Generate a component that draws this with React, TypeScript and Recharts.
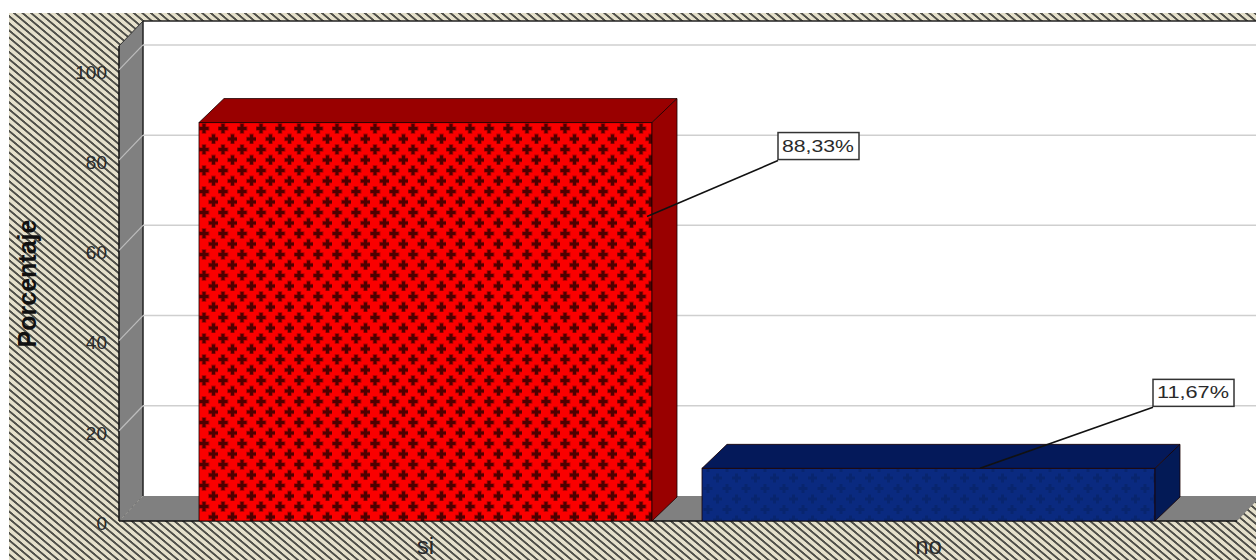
import React from 'react';
import { BarChart, Bar, XAxis, YAxis, ReferenceArea, LabelList, Cell } from 'recharts';

const categories = ['si', 'no'];
const percentages = [88.33, 11.67];
const yTicks = [0, 20, 40, 60, 80, 100];
const Y_MAX = 105.3;

const rows = categories.map((name, i) => ({ name, value: percentages[i] }));

const DEPTH_X = 24;
const DEPTH_Y = 25;
const BAR_DEPTH_X = 25;
const BAR_DEPTH_Y = 24;
const PLOT_LEFT = 119;
const PLOT_RIGHT = 1237;
const IMAGE_RIGHT = 1256;

const fillPatterns = ['url(#redWeave)', 'url(#blueWeave)'];
const sideColors = ['#990000', '#031a56'];
const topColors = ['#990000', '#04195a'];

// where each callout line starts on its bar, and where its box sits, relative to the bar's top-left
const callouts = [
  { startX: 448, startY: 94, boxX: 579, boxY: 10 },
  { startX: 278, startY: 0, boxX: 451, boxY: -89 },
];

const Box3D = (props: any) => {
  const { x, y, width, height, index } = props;
  const right = x + width;
  const bottom = y + height;
  const edge = { stroke: '#1a0000', strokeWidth: 1, strokeOpacity: 0.8 };
  return (
    <g>
      <rect x={x} y={y} width={width} height={height} fill={fillPatterns[index]} {...edge} />
      <polygon
        points={`${x},${y} ${x + BAR_DEPTH_X},${y - BAR_DEPTH_Y} ${right + BAR_DEPTH_X},${y - BAR_DEPTH_Y} ${right},${y}`}
        fill={topColors[index]}
        {...edge}
      />
      <polygon
        points={`${right},${y} ${right + BAR_DEPTH_X},${y - BAR_DEPTH_Y} ${right + BAR_DEPTH_X},${bottom - BAR_DEPTH_Y} ${right},${bottom}`}
        fill={sideColors[index]}
        {...edge}
      />
    </g>
  );
};

const Callout = (props: any) => {
  const { x, y, value, index } = props;
  const c = callouts[index];
  const text = `${Number(value).toFixed(2).replace('.', ',')}%`;
  const boxX = x + c.boxX;
  const boxY = y + c.boxY;
  return (
    <g>
      <line x1={x + c.startX} y1={y + c.startY} x2={boxX} y2={boxY + 28} stroke="#111" strokeWidth={1.6} />
      <rect x={boxX} y={boxY} width={81} height={27} fill="#fff" stroke="#333" strokeWidth={1.5} />
      <text
        x={boxX + 4}
        y={boxY + 19}
        fontSize={17}
        fill="#2a2a2a"
        fontFamily="Liberation Sans"
        textLength={72}
        lengthAdjust="spacingAndGlyphs"
      >
        {text}
      </text>
    </g>
  );
};

// side wall, back wall and floor of the box the bars stand in
const Walls = (props: any) => {
  const { y, height } = props;
  const x = PLOT_LEFT;
  const bottom = y + height;
  const right = PLOT_RIGHT;
  return (
    <g>
      <rect x={x + DEPTH_X} y={y - DEPTH_Y} width={IMAGE_RIGHT} height={height} fill="#fff" />
      <polygon
        points={`${x},${y} ${x + DEPTH_X},${y - DEPTH_Y} ${x + DEPTH_X},${bottom - DEPTH_Y} ${x},${bottom}`}
        fill="#808080"
      />
      <polygon
        points={`${x},${bottom} ${x + DEPTH_X},${bottom - DEPTH_Y} ${right + DEPTH_X},${bottom - DEPTH_Y} ${right},${bottom}`}
        fill="#808080"
      />
      <line x1={x} y1={y} x2={x} y2={bottom} stroke="#111" strokeWidth={1.5} />
      <line x1={x} y1={bottom} x2={right} y2={bottom} stroke="#111" strokeWidth={1.5} />
      <line x1={x} y1={y} x2={x + DEPTH_X} y2={y - DEPTH_Y} stroke="#333" />
      <line x1={x + DEPTH_X} y1={y - DEPTH_Y} x2={x + DEPTH_X} y2={bottom - DEPTH_Y} stroke="#222" strokeWidth={1.5} />
      <line x1={x + DEPTH_X} y1={y - DEPTH_Y} x2={IMAGE_RIGHT} y2={y - DEPTH_Y} stroke="#222" strokeWidth={1.5} />
    </g>
  );
};

// gridline running up the side wall and across the back wall; the area's lower edge sits on the tick value
const WallGridLine = (props: any) => {
  const { y, height } = props;
  const frontY = y + height;
  const backX = PLOT_LEFT + DEPTH_X;
  const backY = frontY - DEPTH_Y;
  return (
    <g>
      <line x1={PLOT_LEFT} y1={frontY} x2={backX} y2={backY} stroke="#bdbdbd" strokeWidth={1.2} />
      <line x1={backX} y1={backY} x2={IMAGE_RIGHT} y2={backY} stroke="#cfcfcf" strokeWidth={1.5} />
    </g>
  );
};

const stripes =
  'repeating-linear-gradient(40deg, #e5e0cb 0px, #e5e0cb 2.9px, #50504a 3.6px, #50504a 4.9px, #e5e0cb 5.5px)';

export default function App() {
  return (
    <div style={{ position: 'absolute', left: 0, top: 0, width: 1256, height: 560, overflow: 'hidden', background: '#fff' }}>
      <div style={{ position: 'absolute', left: 9, top: 13, right: 0, bottom: 0, background: stripes }} />
      <div style={{ position: 'absolute', left: 0, top: 0 }}>
        <BarChart
          width={1256}
          height={560}
          data={rows}
          margin={{ top: 46, right: 19, bottom: 9, left: 0 }}
          barSize={453}
        >
          <defs>
            <pattern id="redWeave" patternUnits="userSpaceOnUse" x={199} y={123} width={19} height={21}>
              <rect width={19} height={21} fill="#fa0000" />
              <path d="M5 0v11M-0.5 5.5h11M14.5 10.5v11M9 16h11" stroke="#b80000" strokeWidth={4.6} />
              <path d="M5 1v9M0.5 5.5h9M14.5 11.5v9M10 16h9" stroke="#4f0000" strokeWidth={3} />
            </pattern>
            <pattern id="blueWeave" patternUnits="userSpaceOnUse" width={19} height={21}>
              <rect width={19} height={21} fill="#0a2a80" />
              <path d="M5 1v9M0.5 5.5h9M14.5 11.5v9M10 16h9" stroke="#08256f" strokeWidth={3} />
            </pattern>
          </defs>
          <XAxis
            dataKey="name"
            axisLine={false}
            tickLine={false}
            padding={{ left: 55, right: 57 }}
            tick={{ fontSize: 24, fill: '#2a2a2a', fontFamily: 'Liberation Sans' }}
            tickMargin={10}
            interval={0}
          />
          <YAxis
            type="number"
            domain={[0, Y_MAX]}
            ticks={yTicks}
            width={119}
            axisLine={false}
            tickLine={false}
            tick={{ fontSize: 19, fill: '#2a2a2a', fontFamily: 'Liberation Sans', dy: 2 }}
            tickMargin={6}
            allowDataOverflow
            label={{
              value: 'Porcentaje',
              angle: -90,
              position: 'insideLeft',
              offset: 0,
              dx: 27,
              dy: 0,
              style: { fontSize: 25, fontWeight: 700, fill: '#111', fontFamily: 'Liberation Sans', textAnchor: 'middle' },
            }}
          />
          <ReferenceArea y1={0} y2={Y_MAX} shape={Walls} />
          {yTicks.slice(1).map((t) => (
            <ReferenceArea key={t} y1={t} y2={Y_MAX} shape={WallGridLine} />
          ))}
          <Bar dataKey="value" isAnimationActive={false} shape={Box3D}>
            {rows.map((r) => (
              <Cell key={r.name} />
            ))}
            <LabelList dataKey="value" content={Callout} />
          </Bar>
        </BarChart>
      </div>
    </div>
  );
}
